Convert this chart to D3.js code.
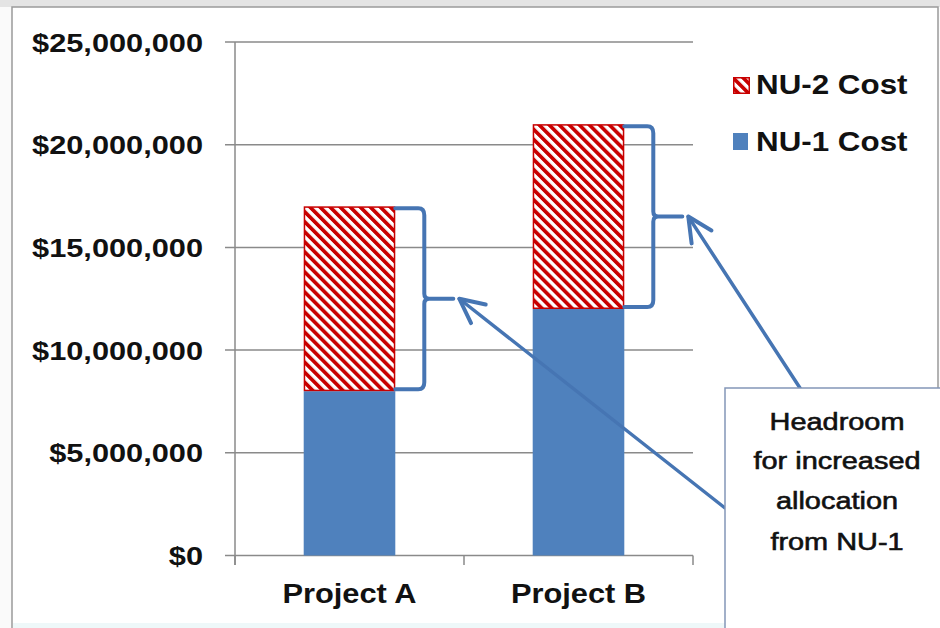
<!DOCTYPE html>
<html><head><meta charset="utf-8">
<script src="https://cdn.jsdelivr.net/npm/d3@7"></script>
<style>body{margin:0;background:#fff;overflow:hidden}</style>
</head><body><svg id="c" width="940" height="628"></svg>
<script>
const categories = ["Project A", "Project B"];
const nu1Cost = [8000000, 12000000];
const nu2Cost = [9000000, 9000000];
const yTicks = [0, 5000000, 10000000, 15000000, 20000000, 25000000];
const seriesNames = ["NU-2 Cost", "NU-1 Cost"];
const calloutLines = ["Headroom", "for increased", "allocation", "from NU-1"];

const svg = d3.select("#c");
const BLUE = "#4f81bd", LINEBLUE = "#4675b3", RED = "#c80000", GRID = "#8a8a8a";
const FONT = "'Liberation Sans', Arial, sans-serif";

// background / frame
svg.append("rect").attr("x",0).attr("y",0).attr("width",940).attr("height",628).attr("fill","#fafafa");
svg.append("rect").attr("x",0).attr("y",0).attr("width",940).attr("height",7).attr("fill","#e4e4e4");
svg.append("rect").attr("x",12).attr("y",7).attr("width",926).attr("height",640)
  .attr("fill","#fff").attr("stroke","#9a9a9a").attr("stroke-width",1.5);
svg.append("rect").attr("x",13).attr("y",623).attr("width",925).attr("height",5).attr("fill","#eef8f9");

// pattern
const defs = svg.append("defs");
const pat = defs.append("pattern").attr("id","hatch").attr("patternUnits","userSpaceOnUse")
  .attr("width",7.1).attr("height",7.1).attr("patternTransform","rotate(-45)");
pat.append("rect").attr("width",7.1).attr("height",7.1).attr("fill","#fff");
pat.append("rect").attr("width",3.7).attr("height",7.1).attr("fill",RED);

const x = d3.scaleBand().domain(categories).range([235, 693]).paddingInner(0.6).paddingOuter(0.3);
const y = d3.scaleLinear().domain([0, 25000000]).range([555.5, 42]);
const fmt = d3.format("$,.0f");

// gridlines
svg.append("g").selectAll("line").data(yTicks).join("line")
  .attr("x1",225).attr("x2",693).attr("y1",d=>y(d)).attr("y2",d=>y(d))
  .attr("stroke",GRID).attr("stroke-width",1.5);
// y axis line
svg.append("line").attr("x1",235).attr("x2",235).attr("y1",y(25000000)).attr("y2",565)
  .attr("stroke",GRID).attr("stroke-width",1.5);
// x ticks (band boundaries)
const xTickPos = [235, (x(categories[0])+x.bandwidth()/2 + x(categories[1])+x.bandwidth()/2)/2, 693];
svg.append("g").selectAll("line").data(xTickPos).join("line")
  .attr("x1",d=>d).attr("x2",d=>d).attr("y1",555.5).attr("y2",565)
  .attr("stroke",GRID).attr("stroke-width",1.5);

// y labels
svg.append("g").selectAll("text").data(yTicks).join("text")
  .attr("transform",d=>`translate(203,${y(d)+9.5}) scale(1.16,1)`)
  .attr("text-anchor","end").attr("font-family",FONT).attr("font-weight","bold")
  .attr("font-size",26.5).attr("fill","#111").text(d=>fmt(d));

// category labels
svg.append("g").selectAll("text").data(categories).join("text")
  .attr("transform",d=>`translate(${x(d)+x.bandwidth()/2},603) scale(1.1,1)`)
  .attr("text-anchor","middle").attr("font-family",FONT).attr("font-weight","bold")
  .attr("font-size",28).attr("fill","#111").text(d=>d);

// bars
const bw = x.bandwidth();
svg.append("g").selectAll("rect").data(categories).join("rect")
  .attr("x",d=>x(d)).attr("width",bw)
  .attr("y",(d,i)=>y(nu1Cost[i])).attr("height",(d,i)=>y(0)-y(nu1Cost[i]))
  .attr("fill",BLUE);
svg.append("g").selectAll("rect").data(categories).join("rect")
  .attr("x",d=>x(d)+0.75).attr("width",bw-1.5)
  .attr("y",(d,i)=>y(nu1Cost[i]+nu2Cost[i])+0.75)
  .attr("height",(d,i)=>y(nu1Cost[i])-y(nu1Cost[i]+nu2Cost[i])-1.5)
  .attr("fill","url(#hatch)").attr("stroke",RED).attr("stroke-width",1.5);

// brackets + arrows
const boxX = 725, boxY = 388;
const tails = [[boxX, 508], [800, boxY]];
const ann = svg.append("g").attr("fill","none").attr("stroke",LINEBLUE).attr("stroke-linecap","round").attr("stroke-linejoin","round");
categories.forEach((c,i)=>{
  const x0 = x(c)+bw, top = y(nu1Cost[i]+nu2Cost[i])+2, bot = y(nu1Cost[i])-2;
  const mid = (top+bot)/2, bx = x0+29;
  ann.append("path").attr("stroke-width",4).attr("d",
    `M${x0},${top} L${bx-6},${top} Q${bx},${top} ${bx},${top+7} L${bx},${mid-5} Q${bx},${mid} ${bx+5},${mid} L${bx+29},${mid}
     M${bx+5},${mid} Q${bx},${mid} ${bx},${mid+5} L${bx},${bot-7} Q${bx},${bot} ${bx-6},${bot} L${x0},${bot}`);
  const tip = [bx+35, mid], tail = tails[i];
  const ang = Math.atan2(tail[1]-tip[1], tail[0]-tip[0]);
  const L = 27, h = 26*Math.PI/180;
  ann.append("line").attr("stroke-width",3.5).attr("x1",tip[0]).attr("y1",tip[1]).attr("x2",tail[0]).attr("y2",tail[1]);
  ann.append("path").attr("stroke-width",4).attr("d",
    `M${tip[0]+L*Math.cos(ang-h)},${tip[1]+L*Math.sin(ang-h)} L${tip[0]},${tip[1]} L${tip[0]+L*Math.cos(ang+h)},${tip[1]+L*Math.sin(ang+h)}`);
});

// callout box
svg.append("rect").attr("x",boxX).attr("y",boxY).attr("width",240).attr("height",260)
  .attr("fill","#fff").attr("stroke","#8497b8").attr("stroke-width",1.5);
svg.append("g").selectAll("text").data(calloutLines).join("text")
  .attr("transform",(d,i)=>`translate(837,${[430,469,509,550][i]}) scale(1.18,1)`)
  .attr("text-anchor","middle").attr("font-family",FONT).attr("font-size",24.5)
  .attr("fill","#111").attr("stroke","#111").attr("stroke-width",0.6).text(d=>d);

// legend
const lg = svg.append("g");
lg.append("rect").attr("x",733.75).attr("y",77.75).attr("width",15.5).attr("height",15.5)
  .attr("fill","url(#hatch)").attr("stroke",RED).attr("stroke-width",1.5);
lg.append("rect").attr("x",733).attr("y",133).attr("width",15).attr("height",17).attr("fill",BLUE);
lg.selectAll("text").data(seriesNames).join("text")
  .attr("transform",(d,i)=>`translate(756,${[94,151][i]}) scale(1.12,1)`)
  .attr("font-family",FONT).attr("font-weight","bold").attr("font-size",28)
  .attr("fill","#111").text(d=>d);
</script></body></html>
